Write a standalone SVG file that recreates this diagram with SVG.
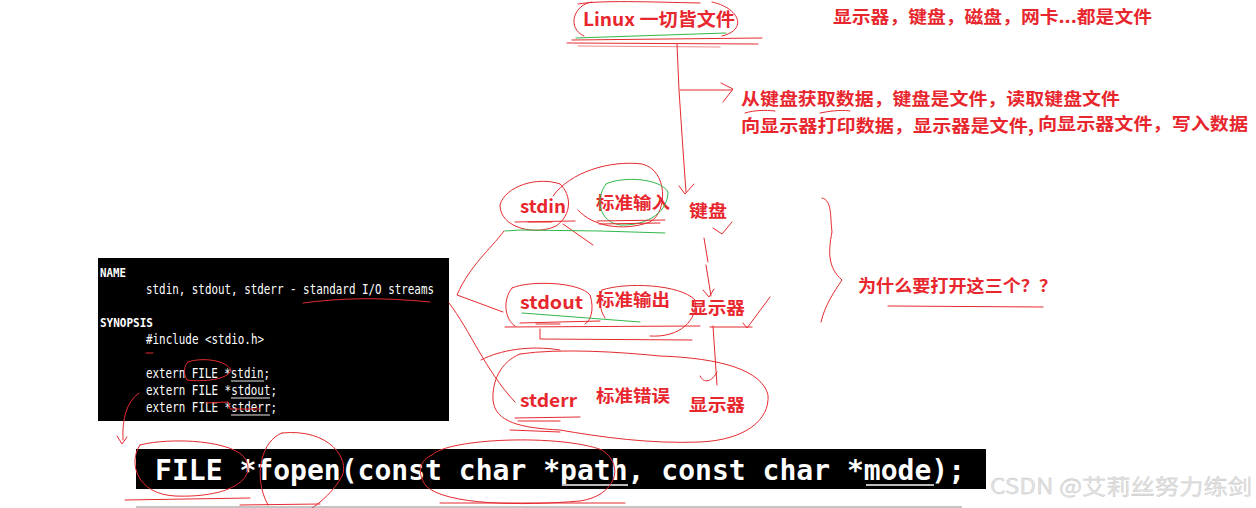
<svg xmlns="http://www.w3.org/2000/svg" width="1256" height="508" viewBox="0 0 1256 508">
<style>
.t{font-family:"Noto Sans CJK SC","Liberation Sans",sans-serif;font-weight:700;fill:#e8262d;}
.m{font-family:"DejaVu Sans Mono","Liberation Mono",monospace;fill:#ffffff;}
.r{fill:none;stroke:#e52a2f;stroke-width:1;stroke-linecap:round;stroke-linejoin:round;}
.rl{fill:none;stroke:#f08a8a;stroke-width:1;stroke-linecap:round;}
.g{fill:none;stroke:#2fb84a;stroke-width:1;stroke-linecap:round;}
.wl{stroke:#e8e8e8;stroke-width:1;}
</style>
<rect width="1256" height="508" fill="#ffffff"/>

<g id="title">
<text class="t" x="583" y="26" font-size="18" textLength="152" lengthAdjust="spacingAndGlyphs">Linux 一切皆文件</text>
</g>
<g id="note-top">
<text class="t" x="833" y="23" font-size="17" textLength="319" lengthAdjust="spacingAndGlyphs">显示器，键盘，磁盘，网卡...都是文件</text>
</g>
<g id="note-io">
<text class="t" x="741" y="105" font-size="17" textLength="379" lengthAdjust="spacingAndGlyphs">从键盘获取数据，键盘是文件，读取键盘文件</text>
<text class="t" x="741" y="132" font-size="17" textLength="293" lengthAdjust="spacingAndGlyphs">向显示器打印数据，显示器是文件,</text>
<text class="t" x="1038" y="130" font-size="17" textLength="210" lengthAdjust="spacingAndGlyphs">向显示器文件，写入数据</text>
</g>
<g id="stdin">
<text class="t" x="520" y="213" font-size="18" textLength="46" lengthAdjust="spacingAndGlyphs">stdin</text>
<text class="t" x="596" y="209" font-size="17" textLength="74" lengthAdjust="spacingAndGlyphs">标准输入</text>
<text class="t" x="689" y="217" font-size="17" textLength="38" lengthAdjust="spacingAndGlyphs">键盘</text>
</g>
<g id="stdout">
<text class="t" x="520" y="309" font-size="18" textLength="63" lengthAdjust="spacingAndGlyphs">stdout</text>
<text class="t" x="596" y="306" font-size="17" textLength="74" lengthAdjust="spacingAndGlyphs">标准输出</text>
<text class="t" x="689" y="314" font-size="17" textLength="56" lengthAdjust="spacingAndGlyphs">显示器</text>
</g>
<g id="stderr">
<text class="t" x="520" y="407" font-size="18" textLength="57" lengthAdjust="spacingAndGlyphs">stderr</text>
<text class="t" x="596" y="402" font-size="17" textLength="74" lengthAdjust="spacingAndGlyphs">标准错误</text>
<text class="t" x="689" y="411" font-size="17" textLength="56" lengthAdjust="spacingAndGlyphs">显示器</text>
</g>
<g id="question">
<text class="t" x="858" y="292" font-size="17" textLength="199" lengthAdjust="spacingAndGlyphs">为什么要打开这三个？？</text>
</g>

<g id="manpage">
<rect x="98" y="258" width="351" height="163" fill="#000000"/>
<text class="m" x="100" y="277" font-size="13" font-weight="700" textLength="26" lengthAdjust="spacingAndGlyphs">NAME</text>
<text class="m" x="146" y="294" font-size="13.5" textLength="288" lengthAdjust="spacingAndGlyphs">stdin, stdout, stderr - standard I/O streams</text>
<text class="m" x="100" y="327" font-size="13" font-weight="700" textLength="53" lengthAdjust="spacingAndGlyphs">SYNOPSIS</text>
<text class="m" x="146" y="344" font-size="13.5" textLength="118" lengthAdjust="spacingAndGlyphs">#include &lt;stdio.h&gt;</text>
<text class="m" x="146" y="378" font-size="13.5" textLength="124" lengthAdjust="spacingAndGlyphs">extern FILE *stdin;</text>
<text class="m" x="146" y="395" font-size="13.5" textLength="131" lengthAdjust="spacingAndGlyphs">extern FILE *stdout;</text>
<text class="m" x="146" y="412" font-size="13.5" textLength="131" lengthAdjust="spacingAndGlyphs">extern FILE *stderr;</text>
<line class="wl" x1="231" y1="381" x2="264" y2="381"/>
<line class="wl" x1="231" y1="398" x2="270" y2="398"/>
<line class="wl" x1="231" y1="415" x2="270" y2="415"/>
</g>

<g id="fopen">
<rect x="136" y="449" width="850" height="40" fill="#000000"/>
<text class="m" x="155" y="480" font-size="28" font-weight="700" textLength="810" lengthAdjust="spacingAndGlyphs">FILE *fopen(const char *path, const char *mode);</text>
<line x1="562" y1="485" x2="628" y2="485" stroke="#bbbbbb" stroke-width="2"/>
<line x1="866" y1="485" x2="934" y2="485" stroke="#bbbbbb" stroke-width="2"/>
</g>

<g id="watermark">
<text x="990" y="494" font-family="Noto Sans CJK SC, Liberation Sans, sans-serif" font-size="21" fill="#e2e2e2" stroke="#c4c4c4" stroke-width="0.3" textLength="262" lengthAdjust="spacingAndGlyphs">CSDN @艾莉丝努力练剑</text>
</g>

<g id="connectors">
<path class="r" d="M592,2 C574,4 566,28 584,36"/>
<path class="r" d="M712,2 C740,8 748,30 722,36"/>
<path class="r" d="M578,4 C600,0 650,2 700,3"/>
<path class="r" d="M572,40 L762,38"/>
<path class="r" d="M567,43 L758,44"/>
<path class="rl" d="M578,46 L720,47"/>
<path class="g" d="M576,38 L726,33"/>
<path class="r" d="M677,44 L679,90 L683,150 L686,192"/>
<path class="r" d="M679,186 L685,194 L694,184"/>
<path class="r" d="M680,90 L732,90"/>
<path class="r" d="M721,83 L733,89 L723,102"/>
<path class="r" d="M745,113 C755,110 765,110 775,111"/>
<path class="r" d="M820,113 C835,110 845,110 850,111"/>
<path class="r" d="M560,184 C538,176 505,186 500,205 C500,228 535,236 556,226 C572,215 572,195 560,184"/>
<path class="r" d="M553,196 C570,172 610,160 642,164 C668,170 668,212 650,222 C622,232 592,226 578,210"/>
<path class="r" d="M563,224 L593,245"/>
<path class="g" d="M606,184 C622,176 660,178 668,192 C668,210 650,226 620,225 C600,222 594,200 606,184"/>
<path class="g" d="M505,231 L520,230 L600,231 L665,233"/>
<path class="r" d="M515,222 L575,221"/>
<path class="r" d="M528,222 L552,222" stroke-width="2"/>
<path class="r" d="M597,221 L665,220"/>
<path class="r" d="M599,224 L660,223"/>
<path class="r" d="M504,231 C490,250 470,265 457,295 L503,312"/>
<path class="r" d="M449,303 C470,330 485,370 515,402"/>
<path class="r" d="M512,288 C530,280 580,282 590,295 C595,310 590,322 585,324 M512,288 C502,300 505,320 515,326"/>
<path class="r" d="M602,290 C625,282 680,284 695,300 C698,320 680,338 650,336 M602,290 C598,300 600,310 605,318"/>
<path class="g" d="M522,313 L640,322"/>
<path class="r" d="M505,327 L700,326"/>
<path class="r" d="M520,323 L600,321"/>
<path class="r" d="M540,329 L540,339 L692,340"/>
<path class="r" d="M536,324 L560,324" stroke-width="2"/>
<path class="r" d="M704,238 L708,262"/>
<path class="r" d="M713,228 L722,234 L732,222"/>
<path class="r" d="M706,265 L711,296"/>
<path class="r" d="M703,290 L709,297 L714,289"/>
<path class="r" d="M743,323 L747,328 L770,297"/>
<path class="r" d="M710,327 L752,327"/>
<path class="r" d="M713,326 L717,385"/>
<path class="r" d="M700,376 C704,384 712,382 717,372"/>
<path class="r" d="M520,354 C560,348 620,352 660,356 C720,358 762,370 768,395 C770,420 745,440 700,442 C650,444 600,437 560,430 C520,428 495,422 493,400 C492,382 500,362 520,354"/>
<path class="r" d="M481,360 C500,350 530,345 560,350"/>
<path class="r" d="M515,418 L580,417"/>
<path class="r" d="M518,421 L560,421"/>
<path class="r" d="M510,430 L560,432"/>
<path class="r" d="M822,198 C832,200 830,215 832,232 C828,252 828,268 842,280 C834,292 825,305 821,322"/>
<path class="r" d="M888,306 L1043,307"/>
<path class="r" d="M303,303 C340,298 380,297 430,302"/>
<path class="r" d="M146,353 L153,353"/>
<path class="r" d="M188,362 C202,357 226,360 231,370 C228,380 202,382 187,380 C183,373 184,366 188,362"/>
<path class="r" d="M206,403 L228,402 L230,409 L260,409"/>
<path class="r" d="M139,393 C126,402 122,420 123,440"/>
<path class="r" d="M117,436 L122,444 L127,437"/>
<path class="r" d="M140,445 C128,462 136,494 175,496 C228,498 256,480 246,460 C236,440 170,437 140,445"/>
<path class="r" d="M282,433 C262,440 252,476 268,505 M282,433 C330,428 350,460 342,476 C335,490 320,503 312,508"/>
<path class="r" d="M432,455 C448,438 560,434 602,450 C626,466 615,496 580,501 C520,506 446,505 426,486 C416,472 420,460 432,455"/>
<path class="r" d="M125,500 L250,498"/>
<path class="r" d="M440,503 L625,503"/>
<path class="r" d="M240,505 L320,504"/>
<line x1="136" y1="507" x2="962" y2="507" stroke="#8a8a8a" stroke-width="1"/>
</g>
</svg>
